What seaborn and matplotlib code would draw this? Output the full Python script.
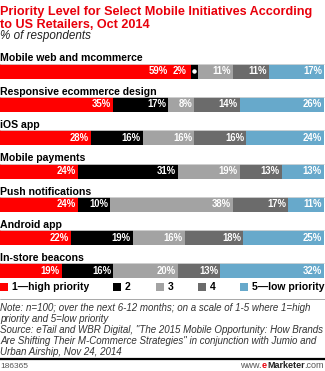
import matplotlib
matplotlib.use("Agg")
import matplotlib.pyplot as plt
from matplotlib.patches import Rectangle
from matplotlib.lines import Line2D
import seaborn as sns
import pandas as pd
import numpy as np

categories = ["Mobile web and mcommerce", "Responsive ecommerce design", "iOS app",
              "Mobile payments", "Push notifications", "Android app", "In-store beacons"]
p1 = [59, 35, 28, 24, 24, 22, 19]
p2 = [2, 17, 16, 31, 10, 19, 16]
p3 = [11, 8, 16, 19, 38, 16, 20]
p4 = [11, 14, 16, 13, 17, 18, 13]
p5 = [17, 26, 24, 13, 11, 25, 32]
series_names = ["1\u2014high priority", "2", "3", "4", "5\u2014low priority"]
colors = ["#ff0000", "#000000", "#a3a3a3", "#6b6b6b", "#67a9cb"]

title_lines = ["Priority Level for Select Mobile Initiatives According",
               "to US Retailers, Oct 2014"]
subtitle = "% of respondents"
note_lines = ["Note: n=100; over the next 6-12 months; on a scale of 1-5 where 1=high",
              "priority and 5=low priority",
              "Source: eTail and WBR Digital, \"The 2015 Mobile Opportunity: How Brands",
              "Are Shifting Their M-Commerce Strategies\" in conjunction with Jumio and",
              "Urban Airship, Nov 24, 2014"]
chart_id = "186365"

sns.set_style("white")
plt.rcParams['font.family'] = ['Liberation Sans', 'DejaVu Sans']

W, H = 325, 371
fig = plt.figure(figsize=(W / 100, H / 100), dpi=100)
fig.canvas.draw()
R = fig.canvas.get_renderer()

def fy(px):
    return 1 - px / H

def fx(px):
    return px / W

def fit_size(text, target_px, **kw):
    t = fig.text(0, 0, text, fontsize=10, **kw)
    w = t.get_window_extent(renderer=R).width
    t.remove()
    return 10 * target_px / w

series = [p1, p2, p3, p4, p5]
cum = np.cumsum(np.array(series), axis=0)

# bar axes
spacing = 33.27
top_px = 71.2 - spacing / 2
ax = fig.add_axes([0, fy(top_px + 7 * spacing), 324 / W, 7 * spacing / H])
bw = 15 / spacing
for k in range(4, -1, -1):
    d = pd.DataFrame({"category": categories, "v": cum[k]})
    sns.barplot(data=d, x="v", y="category", orient="h", color=colors[k],
                saturation=1, width=bw, linewidth=0, ax=ax, order=categories)
ax.set_xlim(0, 100)
ax.set_ylim(len(categories) - 0.5, -0.5)
ax.axis("off")

cat_fs = fit_size(categories[0], 143, fontweight="bold")
val_fs = fit_size("26%", 19, fontweight="bold")
for i, cat in enumerate(categories):
    ytop = i - bw / 2
    ax.plot([0, 100], [ytop, ytop], color="#d8d8d8", lw=0.6, zorder=5, clip_on=False)
    ax.annotate(cat, xy=(0, ytop), xytext=(0, 1.6), textcoords="offset points",
                ha="left", va="baseline", fontsize=cat_fs, fontweight="bold", color="#000000")
    shift = 0
    for k in range(4, -1, -1):
        v = series[k][i]
        end = cum[k][i]
        start = end - v
        if v < 5:
            ax.annotate(f"{v}%", xy=(start, i), xytext=(-3.5, 0), textcoords="offset points",
                        ha="right", va="center", fontsize=val_fs, fontweight="bold",
                        color="white", zorder=6)
            ax.plot([(start + end) / 2], [i], marker="o", ms=2.2, color="white", zorder=6)
            shift = -15
        else:
            ax.annotate(f"{v}%", xy=(end, i), xytext=(-1.5 + shift, 0),
                        textcoords="offset points", ha="right", va="center",
                        fontsize=val_fs, fontweight="bold", color="white", zorder=6)
            shift = 0

# titles
title_fs = fit_size(title_lines[0], 311, fontweight="bold")
for line, base in zip(title_lines, [15.2, 27.5]):
    fig.text(fx(0), fy(base), line, ha="left", va="baseline", fontsize=title_fs,
             fontweight="bold", color="#e8000b")
sub_fs = fit_size(subtitle, 91, style="italic")
fig.text(fx(0), fy(39.3), subtitle, ha="left", va="baseline", fontsize=sub_fs,
         style="italic", color="#222222")

# legend
leg_x = [0, 113, 156, 198, 240]
leg_fs = fit_size(series_names[4], 72.5, fontweight="bold")
for x0, c, name in zip(leg_x, colors, series_names):
    fig.patches.append(Rectangle((fx(x0), fy(291)), 8 / W, 8 / H, transform=fig.transFigure,
                                 facecolor=c, edgecolor="none"))
    fig.text(fx(x0 + 11.5), fy(287), name, ha="left", va="center", fontsize=leg_fs,
             fontweight="bold", color="#000000")

fig.add_artist(Line2D([0, 1], [fy(299), fy(299)], color="#999999", lw=0.6,
                      transform=fig.transFigure))
note_fs = fit_size(note_lines[0], 311, style="italic")
for j, line in enumerate(note_lines):
    fig.text(fx(0), fy(308 + 11.1 * j), line, ha="left", va="center", fontsize=note_fs,
             style="italic", color="#333333")
fig.add_artist(Line2D([0, 1], [fy(359), fy(359)], color="#000000", lw=1.6,
                      transform=fig.transFigure))
fig.text(fx(0), fy(366), chart_id, ha="left", va="center", fontsize=6, color="#555555")

# www.eMarketer.com, right aligned
parts = [("www.", "#555555", "normal"), ("e", "#e8000b", "bold"),
         ("Marketer", "#222222", "bold"), (".com", "#555555", "normal")]
x = 324
for txt, c, w in reversed(parts):
    t = fig.text(fx(x), fy(366), txt, ha="right", va="center", fontsize=6.5, color=c,
                 fontweight=w)
    bb = t.get_window_extent(renderer=R)
    x -= bb.width

fig.savefig("out.png", dpi=100)
